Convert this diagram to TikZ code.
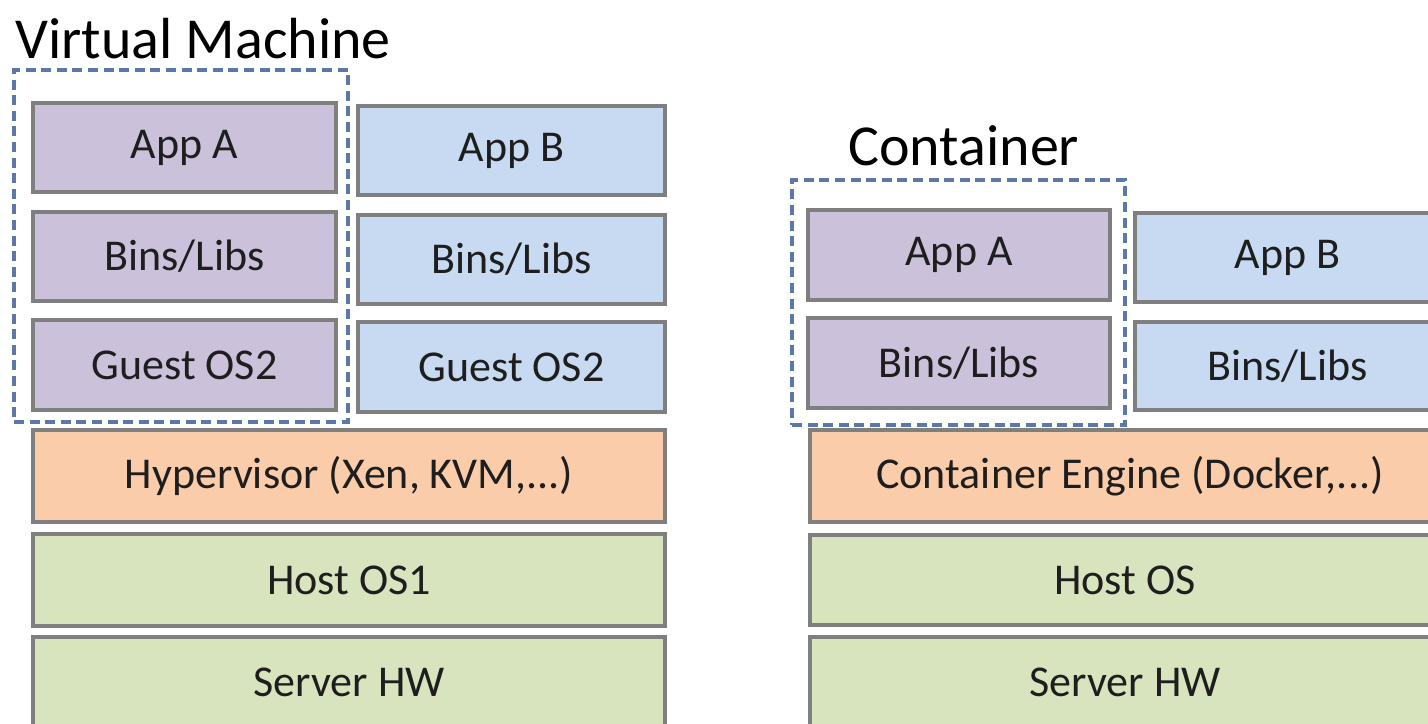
\documentclass[tikz,border=0pt]{standalone}
\usepackage{fontspec}
\setmainfont{Carlito}
\usetikzlibrary{fit}
\definecolor{vmpurple}{HTML}{CCC1DB}
\definecolor{vmblue}{HTML}{C7DAF2}
\definecolor{vmorange}{HTML}{FBCCA9}
\definecolor{vmgreen}{HTML}{D8E4BD}
\definecolor{edgegray}{HTML}{7F7F7F}
\definecolor{dashblue}{HTML}{5B78A8}
\definecolor{txt}{HTML}{1E1E1E}
\tikzset{
  layer/.style={draw=edgegray, line width=2.2pt, inner sep=0pt, outer sep=0pt},
  every label/.append style={font=\fontsize{22}{26}\selectfont, text=txt, inner sep=0pt},
  purplelayer/.style={layer, fill=vmpurple},
  bluelayer/.style={layer, fill=vmblue},
  orangelayer/.style={layer, fill=vmorange},
  greenlayer/.style={layer, fill=vmgreen},
  groupbox/.style={draw=dashblue, line width=2pt, dash pattern=on 5pt off 2.8pt, inner sep=0pt},
  titletext/.style={font=\fontsize{29}{34}\selectfont, text=black, anchor=base west, inner sep=0pt},
}
\begin{document}
\begin{tikzpicture}[x=0.5pt, y=-0.5pt]
\useasboundingbox[fill=white] (0,0) rectangle (1428,723);
% ---- Virtual Machine ----
\node[titletext] (vmtitle) at (15,58) {Virtual Machine};
\node[groupbox, fit={(14,70) (348,422)}] (vmgroup) {};
\node[purplelayer, fit={(33,103) (336,192)}, label={center:App A}] (vmappa) {};
\node[purplelayer, fit={(33,212) (336,301)}, label={center:Bins/Libs}] (vmbinsa) {};
\node[purplelayer, fit={(33,320) (336,410)}, label={center:Guest OS2}] (vmosa) {};
\node[bluelayer, fit={(358,106) (665,195)}, label={center:App B}] (vmappb) {};
\node[bluelayer, fit={(358,215) (665,304)}, label={center:Bins/Libs}] (vmbinsb) {};
\node[bluelayer, fit={(358,322) (665,412)}, label={center:Guest OS2}] (vmosb) {};
\node[orangelayer, fit={(33,430) (665,522)}, label={center:Hypervisor (Xen, KVM,...)}] (vmhyper) {};
\node[greenlayer, fit={(33,534) (665,626)}, label={center:Host OS1}] (vmhost) {};
\node[greenlayer, fit={(33,637) (665,735)}, label={[yshift=2pt]center:Server HW}] (vmhw) {};
% ---- Container ----
\node[titletext] (cttitle) at (848,165) {Container};
\node[groupbox, fit={(792,180) (1125,425)}] (ctgroup) {};
\node[purplelayer, fit={(808,210) (1110,300)}, label={center:App A}] (ctappa) {};
\node[purplelayer, fit={(808,318) (1110,408)}, label={center:Bins/Libs}] (ctbinsa) {};
\node[bluelayer, fit={(1135,213) (1440,302)}, label={center:App B}] (ctappb) {};
\node[bluelayer, fit={(1135,322) (1440,410)}, label={center:Bins/Libs}] (ctbinsb) {};
\node[orangelayer, fit={(810,430) (1450,522)}, label={center:Container Engine (Docker,...)}] (ctengine) {};
\node[greenlayer, fit={(810,535) (1440,625)}, label={center:Host OS}] (cthost) {};
\node[greenlayer, fit={(810,637) (1440,735)}, label={[yshift=2pt]center:Server HW}] (cthw) {};
\end{tikzpicture}
\end{document}
